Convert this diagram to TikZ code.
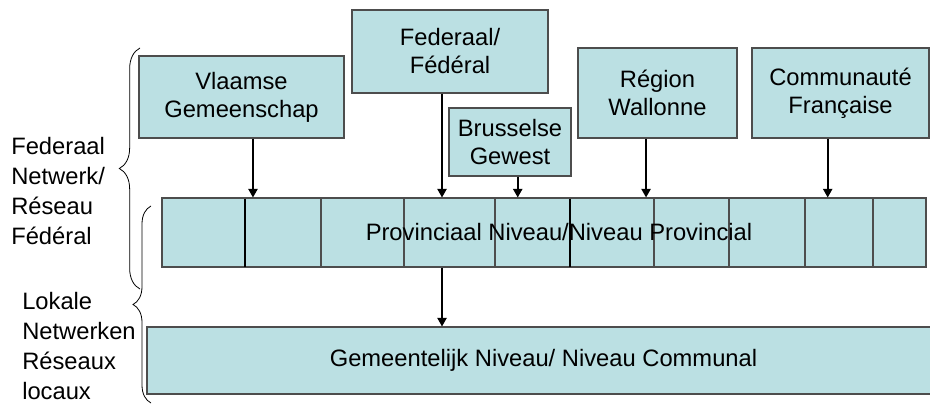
\documentclass[tikz,border=0pt]{standalone}
\usepackage{fontspec}
\setmainfont{Liberation Sans}
\usetikzlibrary{arrows.meta,decorations.pathreplacing}
\definecolor{boxfill}{HTML}{BBE0E3}
\definecolor{boxline}{HTML}{4D4D4D}
\begin{document}
\begin{tikzpicture}[x=0.75pt,y=-0.75pt,
  box/.style={draw=boxline,fill=boxfill,line width=0.8pt,inner sep=0pt,align=center,
    font=\fontsize{17.8}{21}\selectfont},
  arr/.style={-{Triangle[length=6.5pt,width=7pt]},line width=1.2pt,black},
  lbl/.style={align=left,font=\fontsize{17.8}{22.5}\selectfont,inner sep=0pt,anchor=west},
  txt/.style={inner sep=0pt,font=\fontsize{17.8}{21}\selectfont},
  divider/.style={line width=0.8pt},
  brc/.style={decorate,line width=0.6pt}]
\useasboundingbox (0,0) rectangle (930,406);
% top boxes
\node[box,minimum width=153.75pt,minimum height=61.5pt] (vl) at (241.5,97) {Vlaamse\\Gemeenschap};
\node[box,minimum width=147pt,minimum height=62.25pt] (fed) at (450,51.5) {Federaal/\\Fédéral};
\node[box,minimum width=91.5pt,minimum height=51pt] (bru) at (510,142) {Brusselse\\Gewest};
\node[box,minimum width=119.25pt,minimum height=67.5pt] (wal) at (657.5,93) {Région\\Wallonne};
\node[box,minimum width=132.75pt,minimum height=67.5pt] (cf) at (840.5,93) {Communauté\\Française};
% provincial bar
\node[box,minimum width=573pt,minimum height=51.75pt] (prov) at (544,232.5) {};
\foreach \xx/\cc in {245/black,321/boxline,404/boxline,495/boxline,570/black,654/boxline,729/boxline,805/boxline,873/boxline}
  \draw[divider,draw=\cc] (\xx,198.5) -- (\xx,266.5);
\node[txt] (provtxt) at (559,232.5) {Provinciaal Niveau/Niveau Provincial};
% communal bar
\node[box,minimum width=594.75pt,minimum height=50.25pt] (gem) at (543.5,360.5) {Gemeentelijk Niveau/ Niveau Communal};
% arrows
\path ([xshift=8.6pt]vl.south) coordinate (a1)
      ([xshift=-6pt]fed.south) coordinate (a2)
      ([xshift=5.8pt]bru.south) coordinate (a3)
      ([xshift=-8.6pt]wal.south) coordinate (a4)
      ([xshift=-9.6pt]cf.south) coordinate (a5)
      ([xshift=-76.5pt]prov.south) coordinate (a6);
\draw[arr] (a1) -- (a1 |- prov.north);
\draw[arr] (a2) -- (a2 |- prov.north);
\draw[arr] (a3) -- (a3 |- prov.north);
\draw[arr] (a4) -- (a4 |- prov.north);
\draw[arr] (a5) -- (a5 |- prov.north);
\draw[arr] (a6) -- (a6 |- gem.north);
% braces
\coordinate (b1s) at (140,289);
\coordinate (b1e) at (140,48);
\coordinate (b2s) at (151,403);
\coordinate (b2e) at (151,206);
\draw[brc,decoration={brace,amplitude=15.5pt}] (b1s) -- (b1e);
\draw[brc,decoration={brace,amplitude=13.5pt}] (b2s) -- (b2e);
% side labels
\node[lbl] (fn) at (11,191.5) {Federaal\\Netwerk/\\Réseau\\Fédéral};
\node[lbl] (ln) at (22,346.5) {Lokale\\Netwerken\\Réseaux\\locaux};
\end{tikzpicture}
\end{document}
